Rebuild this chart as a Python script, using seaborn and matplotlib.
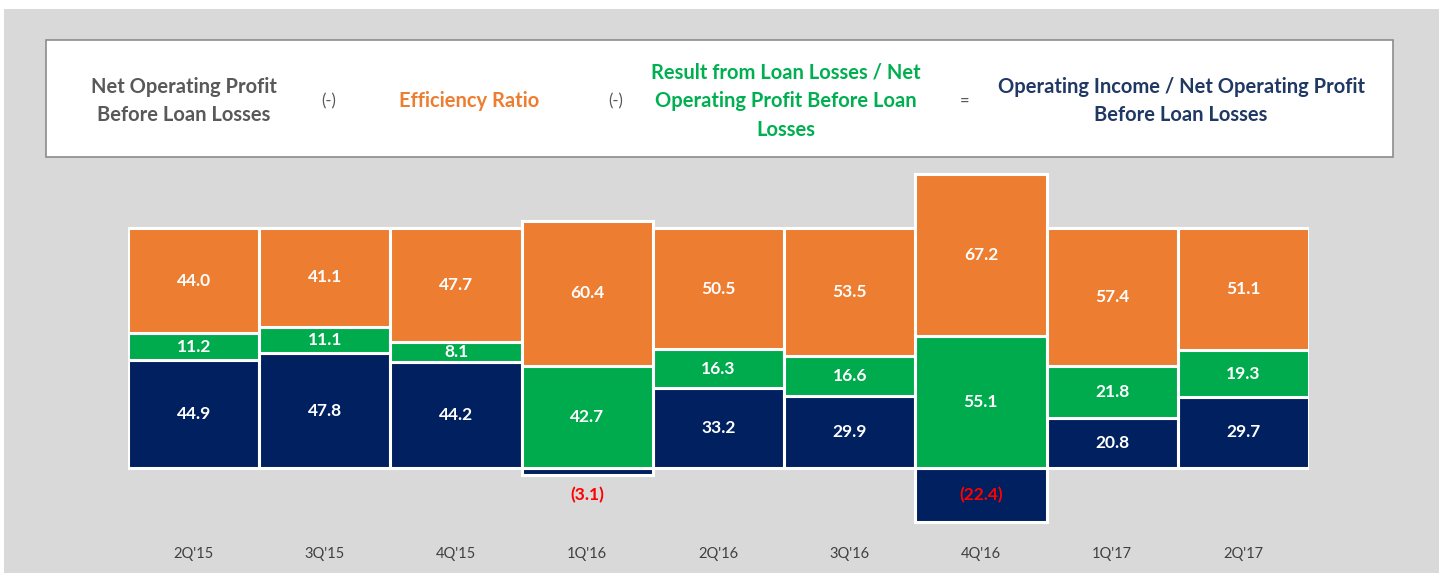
import matplotlib
matplotlib.use("Agg")
import matplotlib.pyplot as plt
from matplotlib.patches import Rectangle
import numpy as np
import pandas as pd
import seaborn as sns

# data
quarters = ["2Q'15", "3Q'15", "4Q'15", "1Q'16", "2Q'16", "3Q'16", "4Q'16", "1Q'17", "2Q'17"]
operating_income = [44.9, 47.8, 44.2, -3.1, 33.2, 29.9, -22.4, 20.8, 29.7]
loan_losses = [11.2, 11.1, 8.1, 42.7, 16.3, 16.6, 55.1, 21.8, 19.3]
efficiency = [44.0, 41.1, 47.7, 60.4, 50.5, 53.5, 67.2, 57.4, 51.1]

NAVY = "#002060"
GREEN = "#00AB4E"
ORANGE = "#ED7D31"
GRAY_TXT = "#595959"

sns.set_theme(style="white")
plt.rcParams['font.family'] = ['Lato', 'DejaVu Sans']

W, H = 1439, 573
fig = plt.figure(figsize=(W / 100, H / 100), dpi=100)
fig.patch.set_facecolor("white")

# grey panel background
fig.add_artist(Rectangle((4 / W, 0), 1, (H - 9) / H, transform=fig.transFigure,
                         facecolor="#D9D9D9", edgecolor="none", zorder=-10))

# header box
fig.add_artist(Rectangle((46 / W, (H - 157) / H), (1393 - 46) / W, 117 / H,
                         transform=fig.transFigure, facecolor="white",
                         edgecolor="#8C8C8C", lw=1.2, zorder=1))


def ftext(x, y, s, **kw):
    fig.text(x / W, 1 - y / H, s, ha="center", va="center", zorder=2, **kw)


hdr = dict(fontsize=14.5, fontweight="bold", linespacing=1.55)
ftext(184, 101, "Net Operating Profit\nBefore Loan Losses", color=GRAY_TXT, **hdr)
ftext(329, 101, "(-)", color=GRAY_TXT, fontsize=12)
ftext(469, 101, "Efficiency Ratio", color=ORANGE, **hdr)
ftext(616, 101, "(-)", color=GRAY_TXT, fontsize=12)
ftext(786, 101, "Result from Loan Losses / Net\nOperating Profit Before Loan\nLosses",
      color="#00B050", **hdr)
ftext(965, 101, "=", color=GRAY_TXT, fontsize=12)
ftext(1181, 101, "Operating Income / Net Operating Profit\nBefore Loan Losses",
      color="#1F3864", **hdr)

# chart axes
ax = fig.add_axes([128 / W, 33 / H, 1181 / W, 380 / H])
ax.patch.set_alpha(0)

df = pd.DataFrame({"quarter": quarters, "op": operating_income,
                   "loan": loan_losses, "eff": efficiency})
green_bottom = np.clip(df["op"].values, 0, None)
orange_bottom = green_bottom + df["loan"].values

bar_kw = dict(width=1.0, saturation=1, edgecolor="white", linewidth=2.2,
              errorbar=None, ax=ax)
sns.barplot(data=df, x="quarter", y="op", color=NAVY, **bar_kw)
sns.barplot(data=df, x="quarter", y="loan", color=GREEN, bottom=green_bottom, **bar_kw)
sns.barplot(data=df, x="quarter", y="eff", color=ORANGE, bottom=orange_bottom, **bar_kw)

lab = dict(ha="center", va="center", fontsize=12.5, fontweight="bold")
for i in range(len(quarters)):
    op = df["op"][i]
    if op >= 0:
        ax.text(i, op / 2, f"{op:.1f}", color="white", **lab)
    else:
        ypos = op / 2 if abs(op) > 10 else op - 8
        ax.text(i, ypos, f"({abs(op):.1f})", color="#FF0000", **lab)
    ax.text(i, green_bottom[i] + df["loan"][i] / 2, f"{df['loan'][i]:.1f}", color="white", **lab)
    ax.text(i, orange_bottom[i] + df["eff"][i] / 2, f"{df['eff'][i]:.1f}", color="white", **lab)

ax.set_xlim(-0.5, 8.5)
ax.set_ylim(-30, 128.33)
ax.set_yticks([])
ax.set_xlabel("")
ax.set_ylabel("")
ax.tick_params(axis="x", length=0, pad=5, labelsize=10.5, labelcolor="#404040")
sns.despine(ax=ax, left=True, bottom=True)

fig.savefig("out.png", dpi=100, facecolor=fig.get_facecolor())
